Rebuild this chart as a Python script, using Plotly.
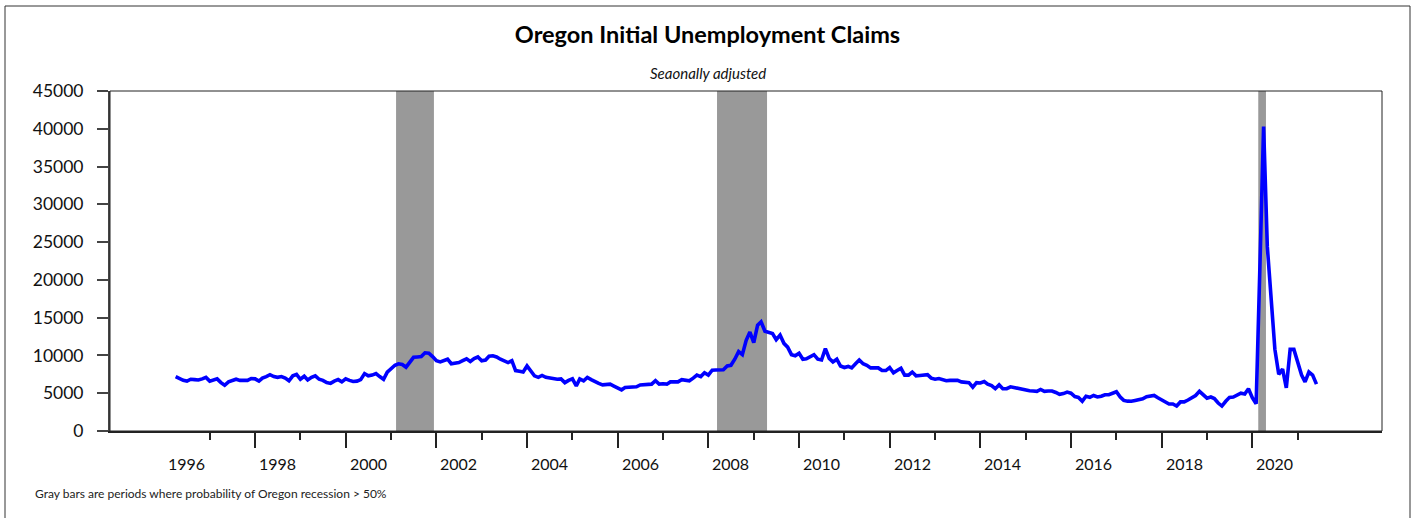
import pandas as pd
import plotly.graph_objects as go

# ---- data (monthly, seasonally adjusted initial claims) ----
start_month = "1996-04-01"
claims = [
    # 1996 Apr-Dec
    7200, 6900, 6700, 6600, 6850, 6800, 6750, 6900, 7100,
    # 1997
    6600, 6700, 6900, 6400, 6050, 6500, 6700, 6850, 6700, 6650, 6700, 6950,
    # 1998
    6900, 6600, 7000, 7200, 7450, 7200, 7100, 7200, 7000, 6650, 7300, 7500,
    # 1999
    6850, 7250, 6750, 7100, 7300, 6850, 6700, 6400, 6300, 6600, 6800, 6500,
    # 2000
    6900, 6700, 6550, 6600, 6800, 7600, 7300, 7400, 7600, 7200, 6850, 7800,
    # 2001
    8300, 8700, 8900, 8800, 8450, 9100, 9750, 9800, 9850, 10350, 10300, 9850,
    # 2002
    9300, 9150, 9350, 9500, 8900, 8950, 9050, 9300, 9550, 9200, 9600, 9800,
    # 2003
    9300, 9400, 9900, 9950, 9800, 9500, 9300, 9050, 9300, 8000, 7900, 7800,
    # 2004
    8600, 7900, 7300, 7100, 7350, 7100, 7000, 7000, 6850, 6900, 6400, 6700,
    # 2005
    6900, 5960, 6900, 6650, 7100, 6800, 6500, 6300, 6100, 6150, 6200, 5950,
    # 2006
    5700, 5450, 5750, 5800, 5780, 5850, 6100, 6150, 6200, 6200, 6650, 6200,
    # 2007
    6250, 6200, 6500, 6450, 6500, 6800, 6700, 6650, 7000, 7400, 7200, 7700,
    # 2008
    7400, 8050, 8070, 8070, 8100, 8600, 8700, 9500, 10500, 10100, 12000, 13100,
    # 2009
    11700, 14000, 14450, 13200, 13100, 12900, 12100, 12700, 11600, 11100, 10100, 9950,
    # 2010
    10300, 9500, 9550, 9800, 10100, 9500, 9400, 10900, 9600, 9150, 9500, 8600,
    # 2011
    8400, 8550, 8350, 8900, 9400, 8900, 8700, 8350, 8350, 8350, 8000, 8000,
    # 2012
    8400, 7700, 8000, 8300, 7400, 7400, 7800, 7300, 7350, 7400, 7450, 7000,
    # 2013
    6850, 6950, 6800, 6650, 6700, 6750, 6700, 6500, 6400, 6400, 5800, 6400,
    # 2014
    6350, 6550, 6200, 6000, 5600, 6100, 5600, 5600, 5850, 5750, 5600, 5450,
    # 2015
    5400, 5330, 5300, 5250, 5500, 5250, 5300, 5300, 5100, 4850, 4950, 5150,
    # 2016
    5000, 4550, 4450, 3950, 4600, 4460, 4700, 4500, 4600, 4800, 4800, 5000,
    # 2017
    5200, 4500, 4050, 3950, 3930, 4050, 4150, 4270, 4550, 4650, 4700, 4400,
    # 2018
    4150, 3900, 3570, 3570, 3310, 3850, 3850, 4100, 4400, 4700, 5250, 4750,
    # 2019
    4350, 4500, 4300, 3700, 3300, 3930, 4450, 4500, 4800, 5000, 4900, 5600,
    # 2020
    4400, 3600, 21000, 40300, 24400, 18000, 10800, 7500, 8200, 5700, 10800, 10800,
    # 2021 Jan-Jun
    8900, 7400, 6500, 7800, 7400, 6200,
]
months = pd.date_range(start_month, periods=len(claims), freq="MS")

recession_starts = ["2001-02-10", "2008-03-11", "2020-02-18"]
recession_ends = ["2001-12-12", "2009-04-18", "2020-04-20"]

year_labels = ["1996", "1998", "2000", "2002", "2004", "2006", "2008",
               "2010", "2012", "2014", "2016", "2018", "2020"]
major_tick_years = [1998, 2000, 2002, 2004, 2006, 2008, 2010, 2012, 2014, 2016, 2018, 2020]
minor_tick_years = [1997, 1999, 2001, 2003, 2005, 2007, 2009, 2011, 2013, 2015, 2017, 2019, 2021]

title_text = "Oregon Initial Unemployment Claims"
subtitle_text = "Seaonally adjusted"
note_text = "Gray bars are periods where probability of Oregon recession > 50%"

FONT = "Lato"

fig = go.Figure()
fig.add_trace(go.Scatter(
    x=months, y=claims, mode="lines",
    line=dict(color="#0000FF", width=3.6),
    hoverinfo="x+y", showlegend=False,
))

for s, e in zip(recession_starts, recession_ends):
    fig.add_shape(type="rect", xref="x", yref="paper", x0=s, x1=e, y0=0, y1=1,
                  fillcolor="#999999", line=dict(width=0), layer="below")

# plot frame (top / right)
fig.add_shape(type="rect", xref="paper", yref="paper", x0=0, x1=1, y0=0, y1=1,
              line=dict(color="#222222", width=1), fillcolor="rgba(0,0,0,0)", layer="above")
# outer border
fig.add_shape(type="rect", xref="paper", yref="paper",
              x0=(5 - 110) / 1272, x1=(1410 - 110) / 1272,
              y0=(431 - 530) / 340, y1=(431 - 6) / 340,
              line=dict(color="#333333", width=1), fillcolor="rgba(0,0,0,0)")

for lab in year_labels:
    fig.add_annotation(x=f"{lab}-07-01", xref="x", y=(431 - 463) / 340, yref="paper",
                       text=lab, showarrow=False, xanchor="center", yanchor="middle",
                       font=dict(family=FONT, size=16, color="#111111"))

fig.add_annotation(x=(708 - 110) / 1272, xref="paper", y=(431 - 73) / 340, yref="paper",
                   text=f"<i>{subtitle_text}</i>", showarrow=False,
                   xanchor="center", yanchor="middle",
                   font=dict(family=FONT, size=15, color="#111111"))

fig.add_annotation(x=(33 - 110) / 1272, xref="paper", y=(431 - 493) / 340, yref="paper",
                   text=note_text, showarrow=False, xanchor="left", yanchor="middle",
                   font=dict(family=FONT, size=12, color="#222222"))

fig.update_layout(
    width=1415, height=518,
    margin=dict(l=110, r=33, t=91, b=87),
    paper_bgcolor="white", plot_bgcolor="white",
    title=dict(text=f"<b>{title_text}</b>", x=0.5, xref="container", xanchor="center",
               y=1 - 35 / 518, yref="container", yanchor="middle",
               font=dict(family=FONT, size=23.5, color="#000000")),
    font=dict(family=FONT, color="#111111"),
    showlegend=False,
)

fig.update_xaxes(
    type="date", range=["1994-10-20", "2022-11-11"],
    showgrid=False, zeroline=False,
    showline=True, linecolor="#222222", linewidth=1.5,
    ticks="outside", ticklen=15, tickwidth=1.5, tickcolor="#222222",
    tickmode="array", tickvals=[f"{y}-01-01" for y in major_tick_years],
    ticktext=["" for _ in major_tick_years],
    minor=dict(ticks="outside", ticklen=7, tickwidth=1.5, tickcolor="#222222",
               tickmode="array", tickvals=[f"{y}-01-01" for y in minor_tick_years],
               showgrid=False),
)
fig.update_yaxes(
    range=[0, 45000], dtick=5000, tick0=0, tickformat="d",
    showgrid=False, zeroline=False,
    showline=True, linecolor="#444444", linewidth=2,
    ticks="outside", ticklen=11, tickwidth=2, tickcolor="#444444",
    ticklabelstandoff=10,
    tickfont=dict(family=FONT, size=17.5, color="#111111"),
)

fig.write_html("out.html", config=dict(displayModeBar=False),
               post_script="document.body.style.margin='0';document.body.style.overflow='hidden';")
